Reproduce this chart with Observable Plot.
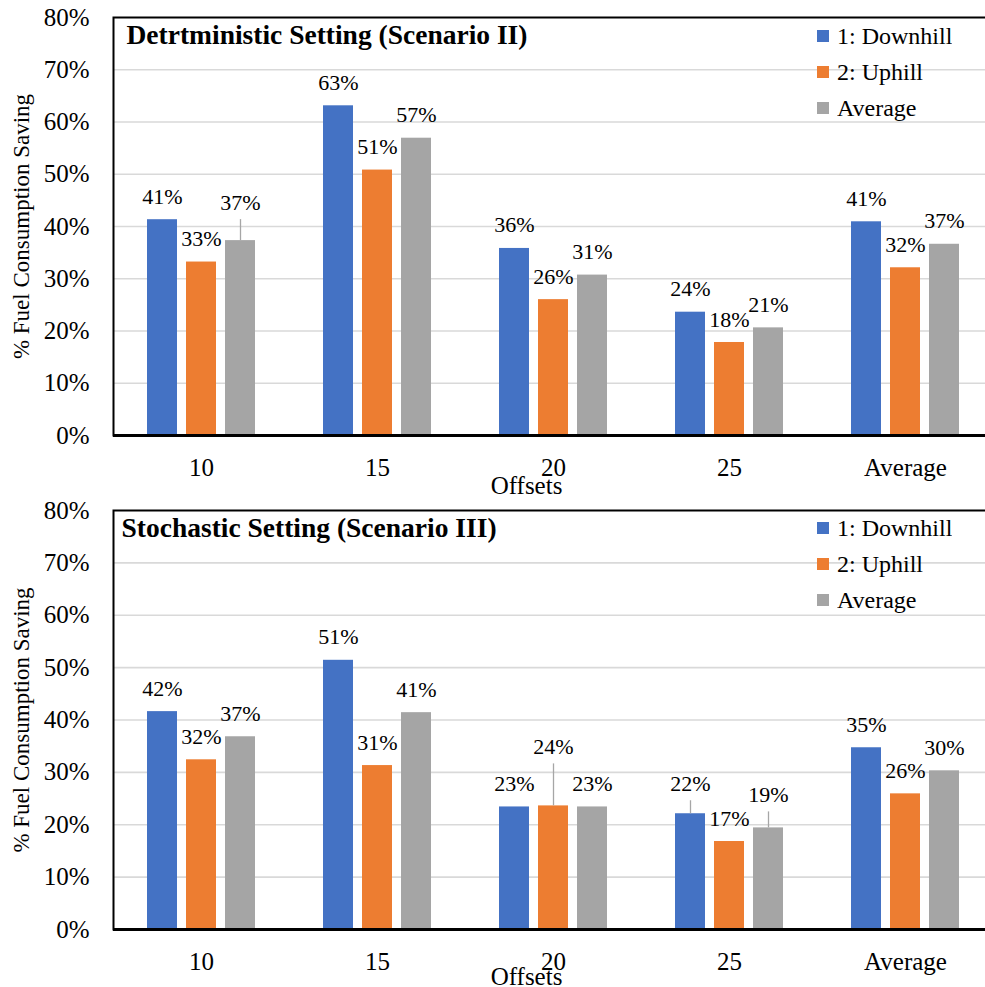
<!DOCTYPE html>
<html><head><meta charset="utf-8">
<script src="https://cdn.jsdelivr.net/npm/d3@7"></script>
<script src="https://cdn.jsdelivr.net/npm/@observablehq/plot@0.6"></script>
<style>
html,body{margin:0;padding:0;background:#fff;overflow:hidden;}
#root{width:985px;height:987px;overflow:hidden;position:relative;background:#fff;}
.panel{position:relative;}
.panel svg{display:block;}
#root svg text{font-family:"Liberation Serif","Times New Roman",serif !important;}
.legend{position:absolute;left:817px;}
.legend, .legend *{font-family:"Liberation Serif","Times New Roman",serif !important;color:#000;}
.legend > div{font-size:24px !important;margin:0 !important;}
.legend > div > div{height:36px;padding:0 !important;display:flex;align-items:center;}
.legend svg{margin-right:8px !important;}
</style>
</head><body><div id="root"></div>
<script>
// ---- data ----
const categories = ["10", "15", "20", "25", "Average"];
const series = ["1: Downhill", "2: Uphill", "Average"];
const colors = ["#4472C4", "#ED7D31", "#A5A5A5"];
const yTicks = [0, 10, 20, 30, 40, 50, 60, 70, 80];
const detDownhill = [41.3, 63.1, 35.8, 23.6, 40.9];
const detUphill   = [33.2, 50.8, 26.0, 17.8, 32.1];
const detAverage  = [37.3, 56.9, 30.7, 20.6, 36.6];
const stoDownhill = [41.6, 51.4, 23.4, 22.1, 34.7];
const stoUphill   = [32.4, 31.3, 23.6, 16.8, 25.9];
const stoAverage  = [36.8, 41.4, 23.4, 19.4, 30.3];
const titleDet = "Detrtministic Setting (Scenario II)";
const titleSto = "Stochastic Setting (Scenario III)";
const xLabel = "Offsets";
const yLabel = "% Fuel Consumption Saving";

// labels that were moved up (with leader lines) in the original
const raisedDet = [{cat: "10", s: "Average", lift: 15}];
const raisedSto = [
  {cat: "20", s: "2: Uphill", lift: 36},
  {cat: "25", s: "1: Downhill", lift: 7},
  {cat: "25", s: "Average", lift: 10}
];

const FONT = '"Liberation Serif", "Times New Roman", serif';
const offsets = [-39, 0, 39];

function makePanel(vals, title, raisedList, o) {
  const rows = [];
  series.forEach((s, j) => categories.forEach((c, i) =>
    rows.push({category: c, series: s, value: vals[j][i], k: j})));
  const marks = [];
  marks.push(Plot.ruleY(yTicks.filter(t => t > 0 && t < 80), {stroke: "#d9d9d9", strokeWidth: 1.6}));
  series.forEach((s, j) => {
    marks.push(Plot.barY(rows.filter(r => r.series === s), {
      x: "category", y: "value", fill: colors[j],
      insetLeft: 73, insetRight: 73, dx: offsets[j]
    }));
  });
  const liftOf = r => {
    const m = raisedList.find(q => q.cat === r.category && q.s === r.series);
    return m ? m.lift : 0;
  };
  const groups = d3.group(rows, r => r.k + "|" + liftOf(r));
  for (const [key, d] of groups) {
    const [k, lift] = key.split("|").map(Number);
    if (lift > 0) {
      marks.push(Plot.ruleX(d, {
        x: "category", y1: "value", y2: "value", insetTop: -(lift + 6), insetBottom: 0,
        dx: offsets[k], stroke: "#a6a6a6", strokeWidth: 1.3
      }));
    }
    marks.push(Plot.text(d, {
      x: "category", y: "value", text: r => Math.round(r.value) + "%",
      dx: offsets[k], dy: -(23 + lift), fontSize: 22, fill: "#000", fontFamily: FONT
    }));
  }
  marks.push(Plot.frame({stroke: "#000", strokeWidth: 2}));
  marks.push(Plot.ruleY([0], {stroke: "#000", strokeWidth: 3}));
  marks.push(Plot.axisY({ticks: yTicks, tickSize: 0, tickPadding: 24, tickFormat: d => d + "%", fontSize: 25, fontFamily: FONT, label: null}));
  marks.push(Plot.axisX({tickSize: 0, tickPadding: 23, fontSize: 25, fontFamily: FONT, label: null}));
  marks.push(Plot.text([title], {text: d => d, frameAnchor: "top-left", textAnchor: "start", lineAnchor: "middle",
    dx: o.titleDx, dy: 18, fontSize: 27.5, fontWeight: "bold", fill: "#000", fontFamily: FONT}));
  marks.push(Plot.text([yLabel], {text: d => d, frameAnchor: "left", textAnchor: "middle", lineAnchor: "middle",
    rotate: -90, dx: -92, fontSize: 23, fill: "#000", fontFamily: FONT}));
  marks.push(Plot.text([xLabel], {text: d => d, frameAnchor: "bottom", textAnchor: "middle", lineAnchor: "middle",
    dx: -27, dy: o.offsetsDy, fontSize: 25, fill: "#000", fontFamily: FONT}));

  const chart = Plot.plot({
    width: 995,
    height: o.height,
    marginLeft: 113,
    marginRight: 2,
    marginTop: o.marginTop,
    marginBottom: o.marginBottom,
    x: {domain: categories, padding: 0, axis: null},
    y: {domain: [0, 80], axis: null},
    style: {fontFamily: FONT, color: "#000", maxWidth: "none", overflow: "visible", background: "white"},
    marks
  });
  const wrap = document.createElement("div");
  wrap.className = "panel";
  wrap.style.height = o.height + "px";
  wrap.appendChild(chart);
  const lg = document.createElement("div");
  lg.className = "legend";
  lg.style.top = o.legendTop + "px";
  lg.appendChild(Plot.legend({
    color: {domain: series, range: colors},
    legend: "swatches", columns: 1, swatchSize: 12,
    style: {fontFamily: FONT, fontSize: "24px"}
  }));
  wrap.appendChild(lg);
  return wrap;
}

const root = document.getElementById("root");
root.appendChild(makePanel([detDownhill, detUphill, detAverage], titleDet, raisedDet,
  {height: 495, marginTop: 17, marginBottom: 60, titleDx: 13, offsetsDy: 50, legendTop: 18}));
root.appendChild(makePanel([stoDownhill, stoUphill, stoAverage], titleSto, raisedSto,
  {height: 492, marginTop: 15, marginBottom: 58, titleDx: 8, offsetsDy: 47, legendTop: 15}));
</script>
</body></html>
